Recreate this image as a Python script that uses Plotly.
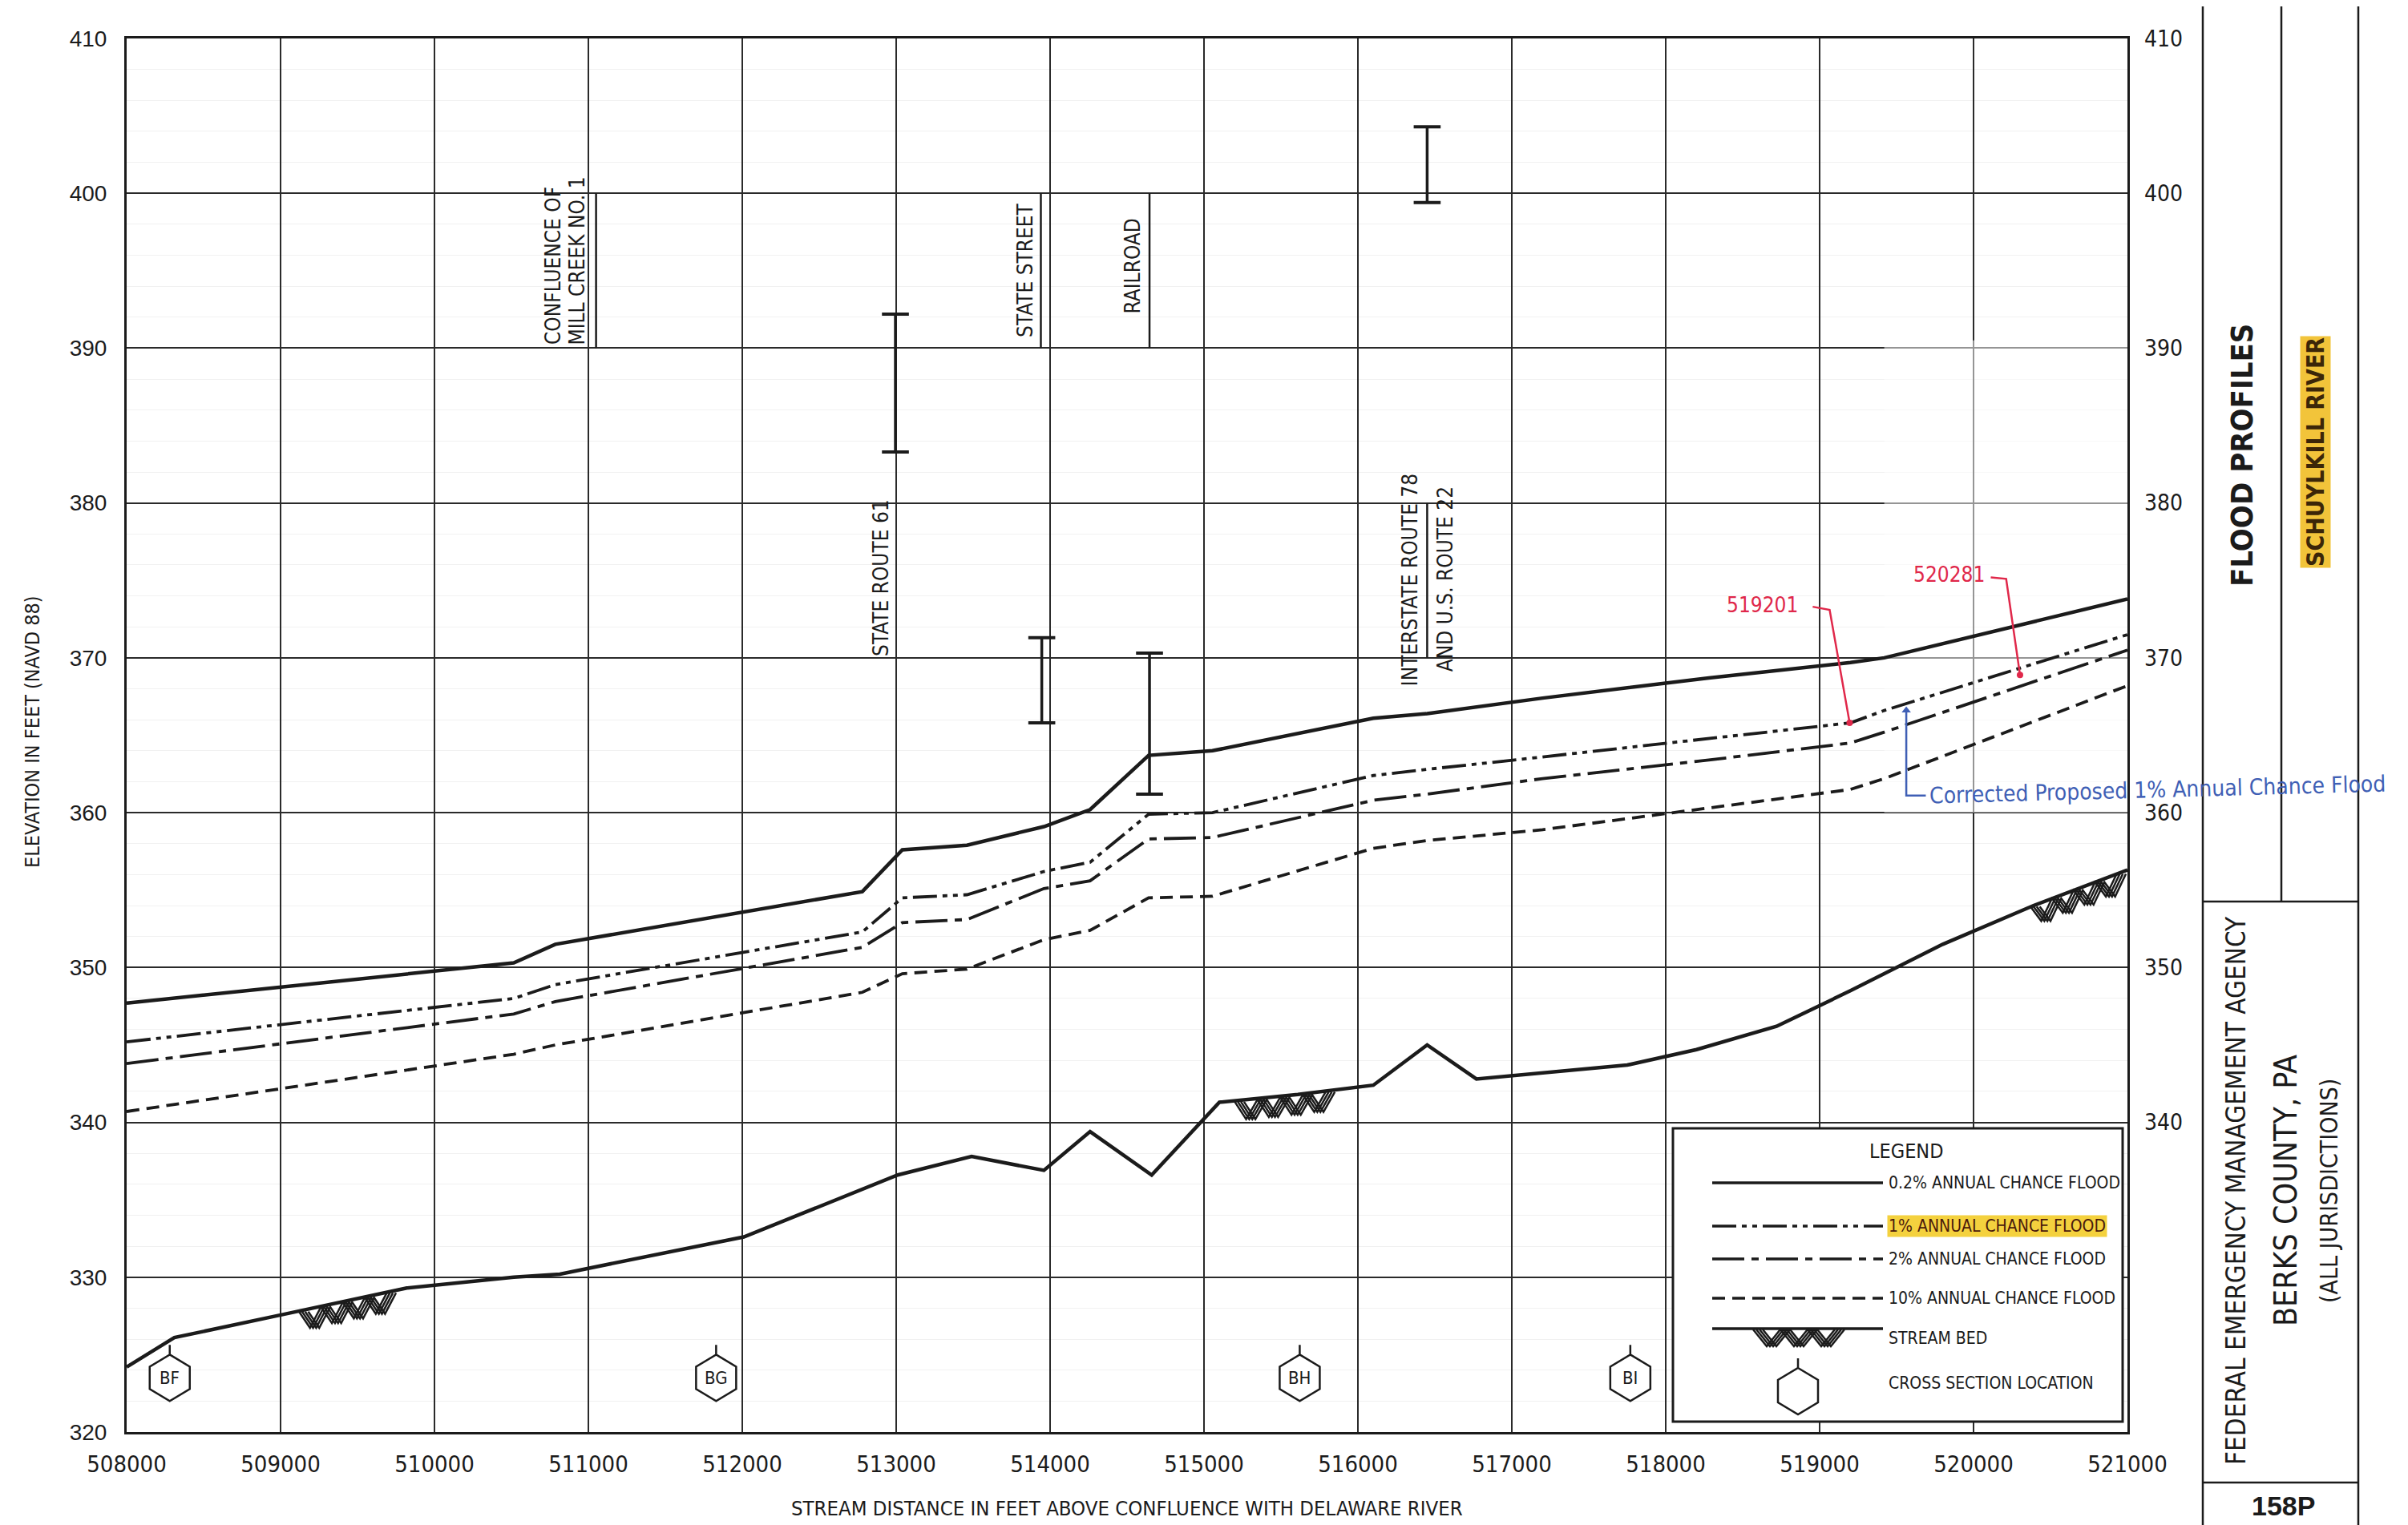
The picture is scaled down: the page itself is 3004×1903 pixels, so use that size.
import numpy as np
import plotly.graph_objects as go

# ---------------- data ----------------
station = [508000, 510515, 510785, 512780, 513040, 513460, 513960, 514260, 514640,
           515055, 516100, 516450, 517200, 518280, 519200, 519420, 521000]
flood_02pct = [347.7, 350.3, 351.5, 354.9, 357.6, 357.9, 359.1, 360.2, 363.7,
               364.0, 366.1, 366.4, 367.4, 368.7, 369.7, 370.0, 373.8]
flood_1pct = [345.2, 348.0, 348.9, 352.3, 354.5, 354.7, 356.2, 356.8, 359.9,
              360.0, 362.4, 362.8, 363.6, 364.8, 365.8, 366.6, 371.5]
flood_2pct = [343.8, 347.0, 347.8, 351.3, 352.9, 353.1, 355.1, 355.6, 358.3,
              358.4, 360.8, 361.2, 362.2, 363.4, 364.5, 365.2, 370.5]
flood_10pct = [340.7, 344.4, 345.0, 348.4, 349.6, 349.9, 351.8, 352.4, 354.5,
               354.6, 357.7, 358.2, 358.9, 360.3, 361.5, 362.2, 368.2]

bed_station = [508000, 508310, 509020, 509820, 510515, 510815, 512010, 513010, 513490,
               513960, 514260, 514660, 515100, 515610, 516100, 516450, 516770, 517750,
               518200, 518720, 519200, 519800, 520390, 521000]
bed_elev = [324.2, 326.1, 327.6, 329.3, 330.0, 330.2, 332.6, 336.6, 337.8,
            336.9, 339.4, 336.6, 341.3, 341.8, 342.4, 345.0, 342.8, 343.7,
            344.7, 346.2, 348.5, 351.5, 354.0, 356.3]

hatch_start = [509150, 515230, 520400]
hatch_end = [509720, 515820, 520960]

xsec_labels = ["BF", "BG", "BH", "BI"]
xsec_station = [508280, 511830, 515622, 517770]
xsec_elev = 323.5

bar_station = [512995, 513946, 514646, 516450]
bar_low = [383.3, 365.8, 361.2, 399.4]
bar_high = [392.2, 371.3, 370.3, 404.3]

ref_station = [511050, 513940, 514646, 516450]
ref_low = [390, 390, 390, 370]
ref_high = [400, 400, 400, 380]

x_ticks = list(range(508000, 521001, 1000))
y_ticks = list(range(320, 411, 10))
y_ticks_right = list(range(340, 411, 10))

# red hand annotations (station labels) and leader paths
red_labels = ["519201", "520281"]
red_label_x = [518626, 519843]
red_label_y = [373.4, 375.4]
red_leader_x = [[518955, 519065, 519195], [520112, 520212, 520302]]
red_leader_y = [[373.3, 373.1, 365.8], [375.2, 375.1, 368.9]]

blue_text = "Corrected Proposed 1% Annual Chance Flood"
blue_path_x = [519563, 519563, 519690]
blue_path_y = [366.6, 361.1, 361.1]

# ---------------- layout constants ----------------
W, H = 3004, 1903
L, R, T, B = 150, 2646, 40, 1779
INK = "#1b1b1b"
NARROW = "Liberation Sans Narrow, Arial Narrow, DejaVu Sans Condensed, Liberation Sans, sans-serif"
SANS = "Liberation Sans, Arial, sans-serif"
RED = "#e0284a"
BLUE = "#3f5fb5"


def PX(x):
    return (x - L) / (R - L)


def PY(y):
    return (B - y) / (B - T)


fig = go.Figure()

# flood profiles
profiles = [
    ("0.2% ANNUAL CHANCE FLOOD", flood_02pct, "solid", 4.5),
    ("1% ANNUAL CHANCE FLOOD", flood_1pct, "30px,7px,6px,7px,6px,7px", 3.8),
    ("2% ANNUAL CHANCE FLOOD", flood_2pct, "40px,9px,9px,9px", 3.8),
    ("10% ANNUAL CHANCE FLOOD", flood_10pct, "16px,9px", 3.8),
]
for name, vals, dash, wdt in profiles:
    fig.add_trace(go.Scatter(x=station, y=vals, mode="lines", name=name,
                             line=dict(color=INK, width=wdt, dash=dash),
                             showlegend=False, hoverinfo="skip"))

# stream bed
fig.add_trace(go.Scatter(x=bed_station, y=bed_elev, mode="lines", name="STREAM BED",
                         line=dict(color=INK, width=4.5), showlegend=False))

# stream bed hatch symbols
for s0, s1 in zip(hatch_start, hatch_end):
    xs = np.linspace(s0, s1, 9)
    base = np.interp(xs, bed_station, bed_elev)
    offs = np.where(np.arange(len(xs)) % 2 == 0, 0.1, 1.3)
    for sh in (-30, -10, 10, 30):
        fig.add_trace(go.Scatter(x=xs + sh, y=base - offs, mode="lines",
                                 line=dict(color=INK, width=2.5), showlegend=False,
                                 hoverinfo="skip"))

# bridge / structure reference lines
rx, ry = [], []
for s, lo, hi in zip(ref_station, ref_low, ref_high):
    rx += [s, s, None]
    ry += [lo, hi, None]
fig.add_trace(go.Scatter(x=rx, y=ry, mode="lines", line=dict(color=INK, width=2.5),
                         showlegend=False, hoverinfo="skip"))

# I-bars
bx, by = [], []
for s, lo, hi in zip(bar_station, bar_low, bar_high):
    bx += [s, s, None]
    by += [lo, hi, None]
fig.add_trace(go.Scatter(x=bx, y=by, mode="lines", line=dict(color=INK, width=3.5),
                         showlegend=False, hoverinfo="skip"))
fig.add_trace(go.Scatter(x=bar_station + bar_station, y=bar_low + bar_high, mode="markers",
                         marker=dict(symbol="line-ew", size=24,
                                     line=dict(color=INK, width=4)),
                         showlegend=False, hoverinfo="skip"))

# red leaders
for lx, ly in zip(red_leader_x, red_leader_y):
    fig.add_trace(go.Scatter(x=lx, y=ly, mode="lines", line=dict(color=RED, width=2.5),
                             showlegend=False, hoverinfo="skip"))
    fig.add_trace(go.Scatter(x=[lx[-1]], y=[ly[-1]], mode="markers",
                             marker=dict(color=RED, size=8),
                             showlegend=False, hoverinfo="skip"))
# blue bracket
fig.add_trace(go.Scatter(x=blue_path_x, y=blue_path_y, mode="lines",
                         line=dict(color=BLUE, width=2.5),
                         showlegend=False, hoverinfo="skip"))
fig.add_trace(go.Scatter(x=[blue_path_x[0]], y=[blue_path_y[0]], mode="markers",
                         marker=dict(symbol="triangle-up", color=BLUE, size=10),
                         showlegend=False, hoverinfo="skip"))

# invisible trace for right axis
fig.add_trace(go.Scatter(x=[station[0]], y=[350], yaxis="y2", mode="markers",
                         marker=dict(opacity=0), showlegend=False, hoverinfo="skip"))

# ---------------- shapes ----------------
shapes = []
# revised patch area (lighter grid)
shapes.append(dict(type="rect", xref="x", yref="y", x0=519420, x1=521000, y0=360, y1=390.5,
                   fillcolor="rgba(255,255,255,0.5)", line=dict(width=0), layer="between"))

# cross-section hexagons (pixel sized, anchored at data stations)
hex_path = "M 0,29 L 25,14 L 25,-14 L 0,-29 L -25,-14 L -25,14 Z M 0,29 L 0,41"
for s in xsec_station:
    shapes.append(dict(type="path", xref="x", yref="y", xsizemode="pixel", ysizemode="pixel",
                       xanchor=s, yanchor=xsec_elev, path=hex_path,
                       line=dict(color=INK, width=2.5), fillcolor="white", layer="above"))

# legend box
shapes.append(dict(type="rect", xref="paper", yref="paper", x0=PX(2079), x1=PX(2640),
                   y0=PY(1766), y1=PY(1400), fillcolor="white",
                   line=dict(color=INK, width=3), layer="above"))
leg_rows = [1468, 1522, 1563, 1612]
leg_dashes = ["solid", "30px,7px,6px,7px,6px,7px", "40px,9px,9px,9px", "16px,9px"]
for yy, dsh in zip(leg_rows, leg_dashes):
    shapes.append(dict(type="line", xref="paper", yref="paper", x0=PX(2128), x1=PX(2341),
                       y0=PY(yy), y1=PY(yy), line=dict(color=INK, width=3.5, dash=dsh),
                       layer="above"))
# legend stream bed
shapes.append(dict(type="line", xref="paper", yref="paper", x0=PX(2128), x1=PX(2341),
                   y0=PY(1650), y1=PY(1650), line=dict(color=INK, width=3.5), layer="above"))
for sh in (-6, -2, 2, 6):
    pts = []
    for i in range(7):
        xx = 2185 + sh + i * 17
        yy = 1651 if i % 2 == 0 else 1672
        pts.append(f"{PX(xx):.5f},{PY(yy):.5f}")
    shapes.append(dict(type="path", xref="paper", yref="paper", path="M " + " L ".join(pts),
                       line=dict(color=INK, width=2.5), layer="above"))
# legend hexagon
hx, hy = 2235, 1728
hex_pts = [(0, -29), (25, -14), (25, 14), (0, 29), (-25, 14), (-25, -14)]
path = "M " + " L ".join(f"{PX(hx + a):.5f},{PY(hy + b):.5f}" for a, b in hex_pts) + " Z"
path += f" M {PX(hx):.5f},{PY(hy - 29):.5f} L {PX(hx):.5f},{PY(hy - 41):.5f}"
shapes.append(dict(type="path", xref="paper", yref="paper", path=path,
                   line=dict(color=INK, width=2.5), layer="above"))

# title block frame
for x0, y0, x1, y1 in [(2740, 0, 2740, 1903), (2838, 0, 2838, 1117), (2934, 0, 2934, 1903),
                       (2740, 1117, 2934, 1117), (2740, 1842, 2934, 1842)]:
    shapes.append(dict(type="line", xref="paper", yref="paper", x0=PX(x0), x1=PX(x1),
                       y0=PY(y0), y1=PY(y1), line=dict(color=INK, width=2.5)))

# ---------------- annotations ----------------
ann = []


def vlabel(text, x, y, yanchor="bottom", size=26):
    ann.append(dict(x=x, y=y, xref="x", yref="y", text=text, textangle=-90, showarrow=False,
                    xanchor="center", yanchor=yanchor,
                    font=dict(family=NARROW, size=size, color=INK)))


vlabel("CONFLUENCE OF", 510771, 390.1)
vlabel("MILL CREEK NO. 1", 510927, 390.1)
vlabel("STATE STREET", 513839, 390.6)
vlabel("RAILROAD", 514537, 392.1)
vlabel("STATE ROUTE 61", 512901, 370.0)
vlabel("INTERSTATE ROUTE 78", 516338, 375.05, "middle")
vlabel("AND U.S. ROUTE 22", 516567, 375.1, "middle")

for lab, s in zip(xsec_labels, xsec_station):
    ann.append(dict(x=s, y=xsec_elev, xref="x", yref="y", text=lab, showarrow=False,
                    xanchor="center", yanchor="middle",
                    font=dict(family=NARROW, size=22, color=INK)))

for lab, lx, ly in zip(red_labels, red_label_x, red_label_y):
    ann.append(dict(x=lx, y=ly, xref="x", yref="y", text=lab, showarrow=False,
                    xanchor="center", yanchor="middle",
                    font=dict(family=NARROW, size=26, color=RED)))
ann.append(dict(x=519700, y=361.5, xref="x", yref="y", text=blue_text, showarrow=False,
                xanchor="left", yanchor="middle", textangle=-1.5,
                font=dict(family=NARROW, size=28, color=BLUE)))


def pann(text, x, y, size, angle=0, color=INK, family=NARROW, bg=None,
         xanchor="center", yanchor="middle"):
    d = dict(x=PX(x), y=PY(y), xref="paper", yref="paper", text=text, textangle=angle,
             showarrow=False, xanchor=xanchor, yanchor=yanchor,
             font=dict(family=family, size=size, color=color))
    if bg:
        d["bgcolor"] = bg
    ann.append(d)


# axis titles
pann("STREAM DISTANCE IN FEET ABOVE CONFLUENCE WITH DELAWARE RIVER", 1398, 1874, 25.5)
pann("ELEVATION IN FEET (NAVD 88)", 32, 905, 25, angle=-90)

# legend texts
pann("LEGEND", 2370, 1428, 25)
leg_texts = ["0.2% ANNUAL CHANCE FLOOD", "1% ANNUAL CHANCE FLOOD", "2% ANNUAL CHANCE FLOOD",
             "10% ANNUAL CHANCE FLOOD", "STREAM BED", "CROSS SECTION LOCATION"]
leg_text_y = [1468, 1522, 1563, 1612, 1662, 1718]
for i, (t, yy) in enumerate(zip(leg_texts, leg_text_y)):
    if i == 1:
        pann(t, 2346, yy, 21, color="#4a1a0c", bg="#f4d13e", xanchor="left")
    else:
        pann(t, 2346, yy, 21, xanchor="left")

# title block texts
pann("<b>FLOOD PROFILES</b>", 2789, 560, 38, angle=-90)
pann("<b>SCHUYLKILL RIVER</b>", 2880, 556, 30, angle=-90, color="#3b2608", bg="#f2c43a")
pann("FEDERAL EMERGENCY MANAGEMENT AGENCY", 2781, 1478, 33, angle=-90)
pann("BERKS COUNTY, PA", 2843, 1478, 39, angle=-90)
pann("(ALL JURISDICTIONS)", 2897, 1478, 30, angle=-90)
pann("<b>158P</b>", 2840, 1871, 34, family=SANS)

fig.update_layout(
    width=W, height=H, autosize=False,
    margin=dict(l=L, r=W - R, t=T, b=H - B, pad=0),
    paper_bgcolor="white", plot_bgcolor="white",
    showlegend=False,
    shapes=shapes, annotations=ann,
    xaxis=dict(range=[508000, 521000], tickvals=x_ticks, ticktext=[str(v) for v in x_ticks],
               showgrid=True, gridcolor="#2a2a2a", gridwidth=2,
               showline=True, linecolor=INK, linewidth=3, mirror=True,
               ticks="", ticklabelstandoff=12, zeroline=False,
               tickfont=dict(family=NARROW, size=29, color=INK)),
    yaxis=dict(range=[320, 410], tickvals=y_ticks, showgrid=True, gridcolor="#2a2a2a",
               gridwidth=2, showline=True, linecolor=INK, linewidth=3, mirror=True,
               ticks="", ticklabelstandoff=16, zeroline=False,
               minor=dict(dtick=2, showgrid=True, gridcolor="#f1f1f1", gridwidth=1),
               tickfont=dict(family=SANS, size=28, color=INK)),
    yaxis2=dict(range=[320, 410], tickvals=y_ticks_right, overlaying="y", side="right",
                showgrid=False, zeroline=False, ticks="", ticklabelstandoff=20,
                tickfont=dict(family=NARROW, size=28, color=INK)),
)

fig.write_html("out.html")
